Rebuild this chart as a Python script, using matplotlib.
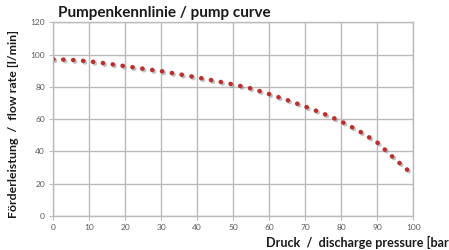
import matplotlib
matplotlib.use("Agg")
import matplotlib.pyplot as plt
import matplotlib.patheffects as pe
import numpy as np

pressure = [0, 5, 10, 15, 20, 25, 30, 35, 40, 45, 50, 55, 60, 65, 70, 75, 80, 85, 90, 95, 100]
flow = [97.1, 96.7, 95.8, 94.4, 92.8, 91.2, 89.7, 87.8, 85.8, 83.7, 81.5, 79.0, 75.5,
        71.8, 67.8, 63.5, 58.6, 52.6, 45.6, 35.2, 25.5]
x_ticks = [0, 10, 20, 30, 40, 50, 60, 70, 80, 90, 100]
y_ticks = [0, 20, 40, 60, 80, 100, 120]

plt.rcParams['font.family'] = ['Lato', 'DejaVu Sans']

fig = plt.figure(figsize=(4.49, 2.5), dpi=100)
ax = fig.add_axes([0.1187, 0.136, 0.8013, 0.775])

grid_c = '#BBBBBB'
ax.set_xlim(0, 100)
ax.set_ylim(0, 120)
ax.set_xticks(x_ticks)
ax.set_yticks(y_ticks)
ax.grid(True, color=grid_c, linewidth=1.0)
ax.set_axisbelow(True)
for s in ax.spines.values():
    s.set_color(grid_c)
    s.set_linewidth(1.0)
ax.tick_params(axis='both', colors=grid_c, labelcolor='#595959', labelsize=6,
               length=3, width=0.8, pad=3)

lw = 3.3
ax.plot(pressure, flow, color='#B8312F', linewidth=lw,
        linestyle=(0, (0.05, 7.0 / lw)), dash_capstyle='round',
        path_effects=[pe.SimpleLineShadow(offset=(1.2, -1.2), shadow_color='#888888', alpha=0.5),
                      pe.Normal()])

fig.text(0.129, 0.948, 'Pumpenkennlinie / pump curve', fontsize=11, fontweight='bold',
         color='#1A1A1A', ha='left', va='center')
fig.text(0.031, 0.505, 'Förderleistung  /  flow rate [l/min]', fontsize=8.9, fontweight='bold',
         color='#1A1A1A', rotation=90, ha='center', va='center')
fig.text(1.0, 0.03, 'Druck  /  discharge pressure [bar', fontsize=9.1, fontweight='bold',
         color='#1A1A1A', ha='right', va='center')

fig.savefig('out.png', dpi=100)
